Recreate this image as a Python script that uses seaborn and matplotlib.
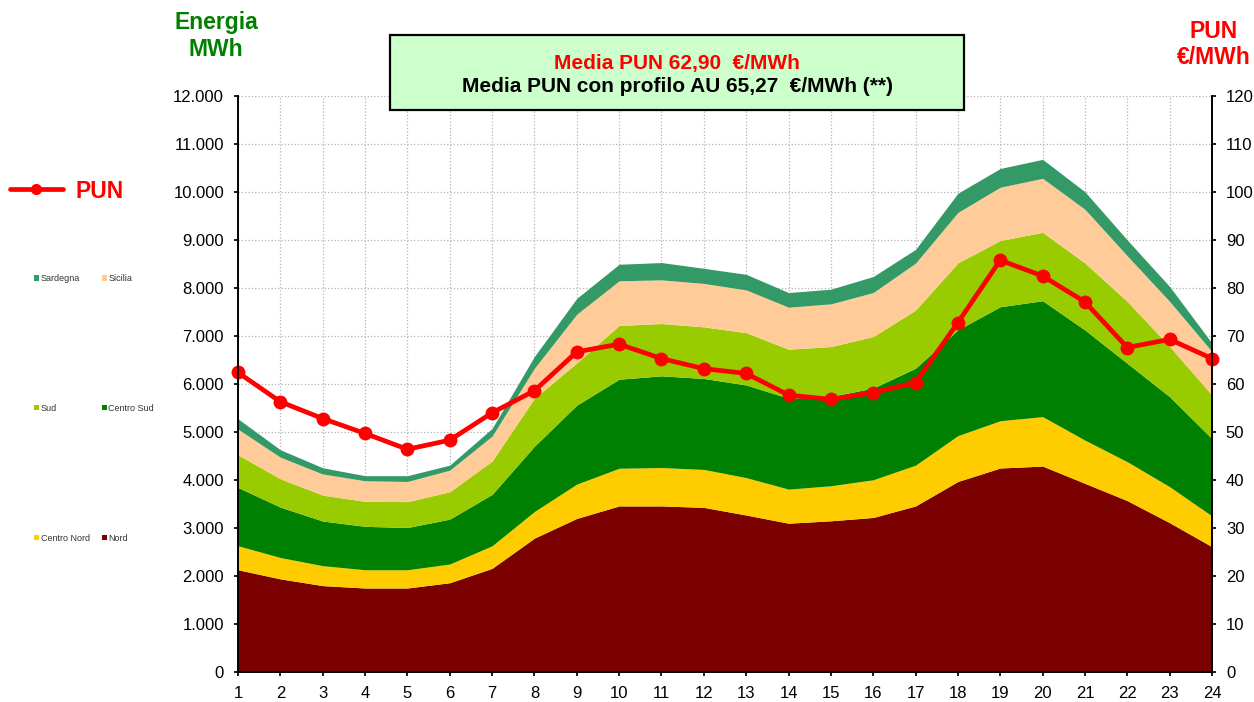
import matplotlib
matplotlib.use("Agg")
import matplotlib.pyplot as plt
import seaborn as sns
import pandas as pd
from matplotlib.lines import Line2D
from matplotlib.patches import Patch, Rectangle
from matplotlib.ticker import MultipleLocator, FuncFormatter

# ore del giorno e quantita' per zona (MWh), PUN in euro/MWh
ore = list(range(1, 25))
nord = [2130, 1940, 1800, 1750, 1750, 1860, 2160, 2790, 3200, 3460, 3460, 3430,
        3270, 3100, 3150, 3220, 3460, 3970, 4250, 4290, 3930, 3570, 3110, 2610]
centro_nord = [500, 445, 415, 380, 380, 390, 470, 555, 715, 785, 800, 790,
               780, 710, 730, 785, 850, 955, 985, 1030, 900, 810, 750, 640]
centro_sud = [1215, 1050, 930, 905, 880, 935, 1070, 1360, 1645, 1855, 1910, 1895,
              1930, 1895, 1860, 1910, 2020, 2205, 2375, 2415, 2295, 2050, 1875, 1610]
sud = [680, 590, 540, 520, 540, 570, 695, 1000, 880, 1120, 1090, 1075,
       1090, 1020, 1040, 1075, 1210, 1395, 1380, 1425, 1395, 1290, 1045, 910]
sicilia = [535, 450, 440, 430, 420, 450, 520, 625, 1015, 930, 910, 905,
           890, 875, 890, 915, 980, 1050, 1110, 1125, 1120, 950, 940, 905]
sardegna = [215, 155, 130, 105, 120, 105, 160, 245, 330, 345, 360, 315,
            325, 305, 305, 335, 285, 400, 390, 395, 365, 330, 310, 175]
pun = [62.4, 56.3, 52.8, 49.7, 46.4, 48.3, 54.0, 58.6, 66.7, 68.3, 65.3, 63.2,
       62.2, 57.7, 56.8, 58.2, 60.3, 72.8, 85.8, 82.5, 77.1, 67.6, 69.3, 65.3]

zone = ["Nord", "Centro Nord", "Centro Sud", "Sud", "Sicilia", "Sardegna"]
colori = ["#7B0000", "#FFCC00", "#008000", "#99CC00", "#FFCC99", "#339966"]

sns.set_theme(style="white")
plt.rcParams['font.family'] = ['Liberation Sans', 'DejaVu Sans']

fig = plt.figure(figsize=(12.54, 7.02), dpi=100)
ax = fig.add_axes([238 / 1254, 30 / 702, 974 / 1254, 576 / 702])

ax.stackplot(ore, nord, centro_nord, centro_sud, sud, sicilia, sardegna,
             colors=colori, linewidth=0)
ax.set_axisbelow(True)
ax.grid(True, color="#b4b4b4", linestyle=":", linewidth=0.9)
ax.set_xlim(1, 24)
ax.set_ylim(0, 12000)
ax.xaxis.set_major_locator(MultipleLocator(1))
ax.yaxis.set_major_locator(MultipleLocator(1000))
ax.yaxis.set_major_formatter(FuncFormatter(lambda v, p: f"{int(v):,}".replace(",", ".")))
ax.tick_params(axis="both", left=True, bottom=True, length=3, pad=7,
               labelsize=12, color="black", labelcolor="black")

ax2 = ax.twinx()
df_pun = pd.DataFrame({"Ora": ore, "PUN": pun})
sns.lineplot(data=df_pun, x="Ora", y="PUN", ax=ax2, color="#FF0000", linewidth=3.4,
             marker="o", markersize=10, markeredgewidth=0, legend=False, clip_on=False)
ax2.set_ylim(0, 120)
ax2.yaxis.set_major_locator(MultipleLocator(10))
ax2.set_ylabel("")
ax2.tick_params(axis="y", right=True, length=3, pad=7, labelsize=12,
                color="black", labelcolor="black")
ax.set_xlabel("")
ax.set_ylabel("")

for a in (ax, ax2):
    a.spines["top"].set_visible(False)
    for s in ("left", "right", "bottom"):
        a.spines[s].set_color("black")
        a.spines[s].set_linewidth(1.2)

# titoli degli assi
fig.text(216 / 1254, 1 - 36 / 702, "Energia\nMWh", color="#008000", fontsize=16.5,
         fontweight="bold", ha="center", va="center", linespacing=1.25)
fig.text(1214 / 1254, 1 - 44.5 / 702, "PUN\n€/MWh", color="#FF0000", fontsize=16.5,
         fontweight="bold", ha="center", va="center", linespacing=1.2)

# riquadro medie
fig.add_artist(Rectangle((390 / 1254, 1 - 110 / 702), 574 / 1254, 75 / 702,
                         transform=fig.transFigure, facecolor="#CCFFCC",
                         edgecolor="black", linewidth=1.6, zorder=5))
fig.text(677 / 1254, 1 - 63 / 702, "Media PUN 62,90  €/MWh", color="#FF0000",
         fontsize=15, fontweight="bold", ha="center", va="center", zorder=6)
fig.text(677 / 1254, 1 - 87 / 702, "Media PUN con profilo AU 65,27  €/MWh (**)",
         color="black", fontsize=15, fontweight="bold", ha="center", va="center", zorder=6)

# legenda PUN
h_pun = Line2D([], [], color="#FF0000", linewidth=3.4, marker="o", markersize=7)
fig.legend(handles=[h_pun], labels=["PUN"], loc="center left",
           bbox_to_anchor=(10 / 1254, 1 - 191 / 702), frameon=False,
           prop={"weight": "bold", "size": 16.5}, labelcolor="#FF0000",
           handlelength=2.3, handletextpad=0.55, borderpad=0, borderaxespad=0)

# legenda zone (due colonne)
ordine = ["Sardegna", "Sud", "Centro Nord", "Sicilia", "Centro Sud", "Nord"]
handles = [Patch(facecolor=colori[zone.index(z)], edgecolor="none") for z in ordine]
fig.legend(handles=handles, labels=ordine, loc="upper left", ncol=2,
           bbox_to_anchor=(34 / 1254, 1 - 274 / 702), frameon=False,
           fontsize=6.5, labelcolor="#333333", handlelength=0.55, handleheight=0.55,
           handletextpad=0.2, columnspacing=1.3, labelspacing=13.4,
           borderpad=0, borderaxespad=0)

fig.savefig("out.png", dpi=100)
